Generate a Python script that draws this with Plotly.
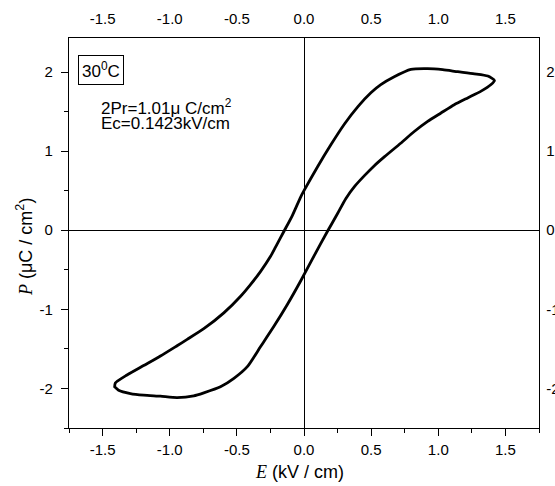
import plotly.graph_objects as go

# Hysteresis loop, upper branch (E decreasing from +Emax to -Emax)
E_up = [1.418, 1.369, 1.269, 1.145, 1.033, 0.921, 0.796, 0.672, 0.572, 0.50, 0.40, 0.30,
        0.20, 0.10, 0.0, -0.025, -0.087, -0.149, -0.211, -0.249, -0.323, -0.40, -0.472,
        -0.597, -0.746, -0.870, -0.945, -1.069, -1.194, -1.318, -1.405, -1.41]
P_up = [1.893, 1.949, 1.978, 2.004, 2.029, 2.042, 2.033, 1.94, 1.84, 1.74, 1.56, 1.34,
        1.08, 0.80, 0.50, 0.42, 0.186, -0.013, -0.21, -0.33, -0.52, -0.69, -0.834,
        -1.045, -1.245, -1.38, -1.46, -1.59, -1.71, -1.83, -1.93, -1.98]
# Lower branch (E increasing from -Emax to +Emax)
E_dn = [-1.41, -1.381, -1.293, -1.194, -1.069, -0.945, -0.821, -0.746, -0.622, -0.522,
        -0.422, -0.323, -0.224, -0.124, -0.025, 0.075, 0.175, 0.249, 0.311, 0.38, 0.45,
        0.52, 0.60, 0.72, 0.821, 0.921, 1.02, 1.119, 1.219, 1.319, 1.393, 1.418]
P_dn = [-1.98, -2.022, -2.064, -2.085, -2.098, -2.115, -2.094, -2.056, -1.980, -1.873,
        -1.725, -1.470, -1.215, -0.939, -0.642, -0.324, -0.013, 0.208, 0.399, 0.56, 0.69,
        0.81, 0.93, 1.10, 1.248, 1.376, 1.482, 1.587, 1.673, 1.758, 1.842, 1.893]

x_ticks = [-1.5, -1.0, -0.5, 0.0, 0.5, 1.0, 1.5]
x_labels = ["-1.5", "-1.0", "-0.5", "0.0", "0.5", "1.0", "1.5"]
y_ticks = [-2, -1, 0, 1, 2]
y_labels = ["-2", "-1", "0", "1", "2"]

E = E_up + E_dn
P = P_up + P_dn

SANS = "Liberation Sans, Arial, sans-serif"
XR = [-1.75, 1.75]
YR = [-2.5, 2.43]
W, H = 555, 486
ML, MR, MT, MB = 69, 16, 38, 58
PW, PH = W - ML - MR, H - MT - MB


def px(x):
    return (x - ML) / PW


def py(y):
    return (H - y - MB) / PH


fig = go.Figure()
fig.add_trace(go.Scatter(x=E, y=P, mode="lines",
                         line=dict(color="black", width=2.8, shape="spline", smoothing=0.6),
                         hoverinfo="skip", showlegend=False))
fig.add_trace(go.Scatter(x=[None], y=[None], xaxis="x2", yaxis="y2", showlegend=False))

common = dict(showgrid=False, showline=True, linecolor="black", linewidth=1.3,
              automargin=False, tickfont=dict(family=SANS, size=15, color="black"))
fig.update_layout(
    width=W, height=H,
    margin=dict(l=ML, r=MR, t=MT, b=MB, autoexpand=False),
    paper_bgcolor="white", plot_bgcolor="white",
    xaxis=dict(range=XR, tickvals=x_ticks, ticktext=x_labels, ticks="outside", ticklen=7,
               tickwidth=1.2, tickcolor="black", zeroline=True, zerolinecolor="black",
               zerolinewidth=1, ticklabelstandoff=1,
               minor=dict(dtick=0.25, tick0=0, ticks="outside", ticklen=4, tickcolor="black",
                          tickwidth=1.2), **common),
    yaxis=dict(range=YR, tickvals=y_ticks, ticktext=y_labels, ticks="outside", ticklen=7,
               tickwidth=1.2, tickcolor="black", zeroline=True, zerolinecolor="black",
               zerolinewidth=1, ticklabelstandoff=5,
               minor=dict(dtick=0.5, tick0=0, ticks="outside", ticklen=4, tickcolor="black",
                          tickwidth=1.2), **common),
    xaxis2=dict(range=XR, overlaying="x", side="top", tickvals=x_ticks, ticktext=x_labels,
                ticks="", zeroline=False, ticklabelstandoff=7, anchor="y", **common),
    yaxis2=dict(range=YR, overlaying="y", side="right", tickvals=y_ticks, ticktext=y_labels,
                ticks="", zeroline=False, ticklabelstandoff=3, anchor="x", **common),
)

ann = [
    dict(text="<i><span style='font-family:Liberation Serif'>E</span></i> (kV / cm)",
         x=px(299), y=py(472), font_size=18),
    dict(text="<i><span style='font-family:Liberation Serif'>P</span></i> (μC / cm<sup>2</sup>)",
         x=px(24), y=py(247), textangle=-90, font_size=18),
    dict(text="30<sup>0</sup>C", x=px(100.5), y=py(70), bordercolor="black", borderwidth=1,
         borderpad=3, font_size=17),
    dict(text="2Pr=1.01μ C/cm<sup>2</sup>", x=px(99), y=py(107), xanchor="left", font_size=17),
    dict(text="Ec=0.1423kV/cm", x=px(99), y=py(123.5), xanchor="left", font_size=17),
]
for a in ann:
    a.setdefault("xanchor", "center")
    a.setdefault("yanchor", "middle")
    fs = a.pop("font_size")
    fig.add_annotation(xref="paper", yref="paper", showarrow=False,
                       font=dict(family=SANS, size=fs, color="black"), **a)

fig.write_html("out.html")
